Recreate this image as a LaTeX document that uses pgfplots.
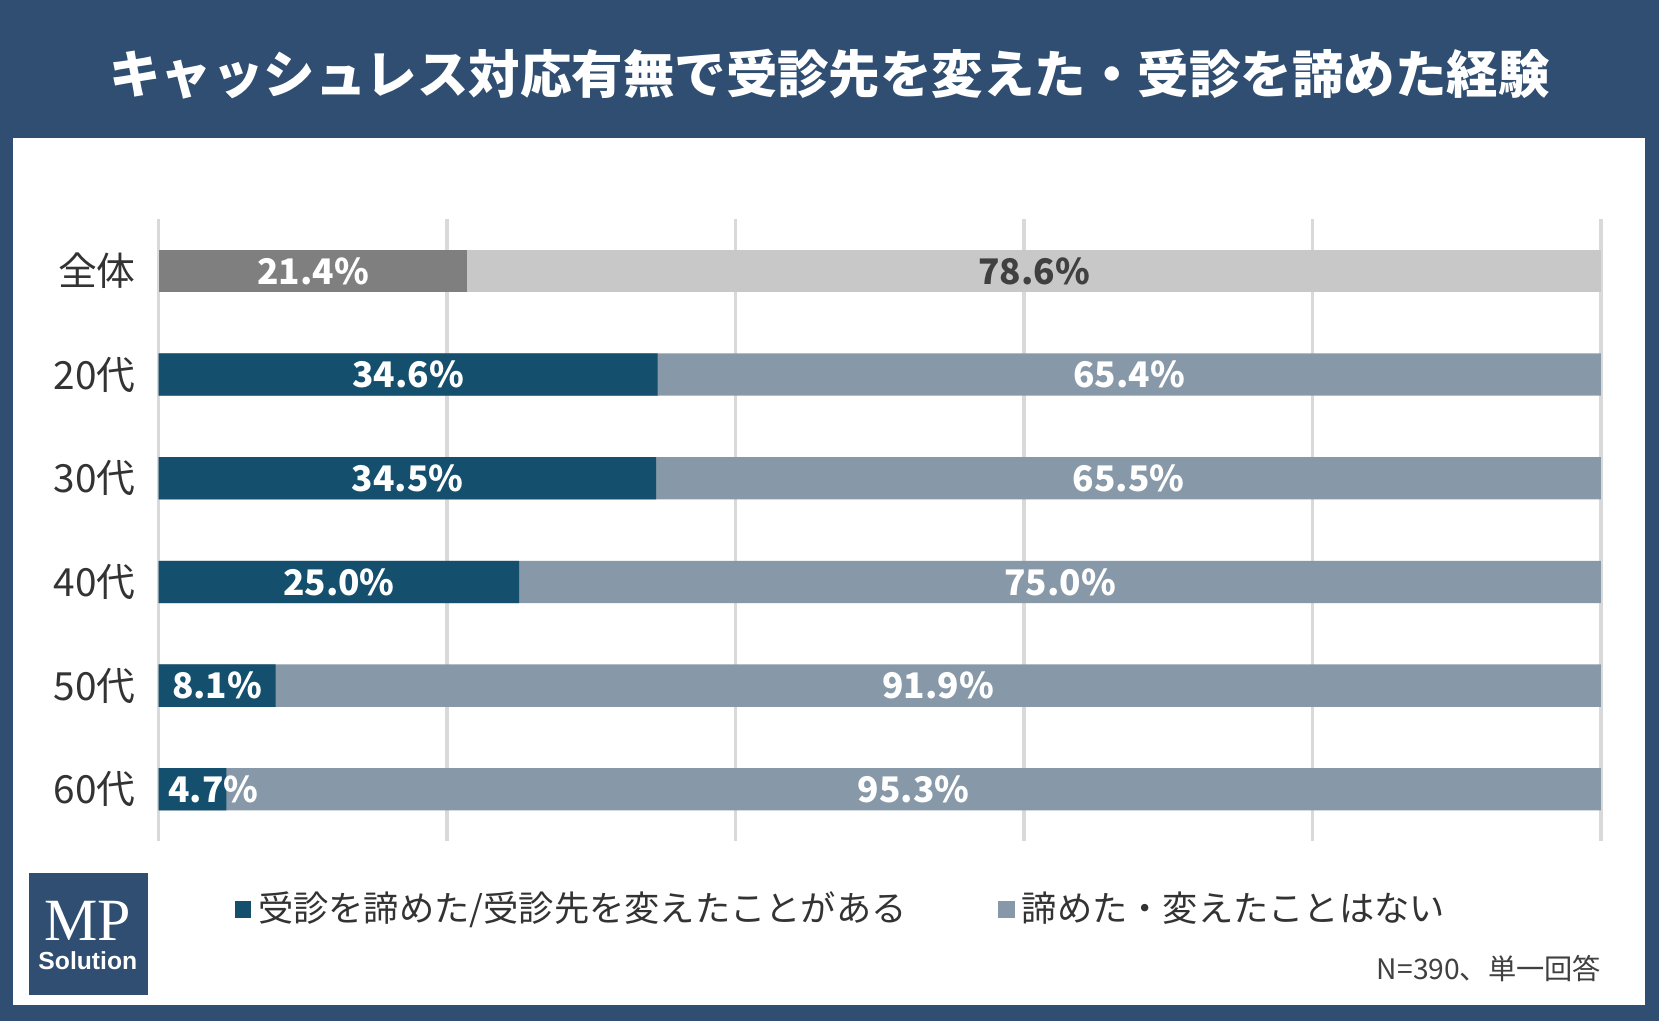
\documentclass[border=0pt]{standalone}
\usepackage{pgfplots}
\pgfplotsset{compat=1.18}
\usepackage{fontspec}
\setmainfont{Noto Sans CJK JP}
\definecolor{frame}{HTML}{2F4E71}
\definecolor{darkA}{HTML}{7F7F7F}
\definecolor{lightA}{HTML}{C8C8C8}
\definecolor{darkB}{HTML}{144F6E}
\definecolor{lightB}{HTML}{8799A8}
\begin{document}
\begin{tikzpicture}[x=0.3pt,y=-0.3pt]
\fill[frame] (0,0) rectangle (1568,965);
\fill[white] (12,130) rectangle (1555,950);
\node[white,font=\fontsize{14.6}{18}\selectfont\bfseries] at (784,70) {キャッシュレス対応有無で受診先を変えた・受診を諦めた経験};
\coordinate (A) at (150,795);
\begin{axis}[at={(A)},anchor=south west,scale only axis,
 width=408.9pt,height=176.4pt,xmin=0,xmax=100,ymin=-0.5,ymax=5.5,y dir=reverse,
 axis line style={draw=none},xtick={0,20,...,100},xticklabels={},
 xmajorgrids,grid style={gray!30,line width=1pt},major tick length=0pt,
 ytick={0,...,5},yticklabels={全体,20代,30代,40代,50代,60代},
 yticklabel style={font=\fontsize{11}{13}\selectfont,text=black!80,xshift=-3pt},
 xbar,bar width=12pt,bar shift=0pt,
 legend style={at={(axis description cs:0.045,-0.11)},anchor=west,draw=none,fill=none,
   font=\fontsize{10}{12}\selectfont,text=black!80,legend columns=2,
   /tikz/every even column/.append style={column sep=24pt}},
 legend image code/.code={\fill[#1,draw=none] (0pt,-2.3pt) rectangle (4.6pt,2.3pt);}]
\addplot[fill=lightA,draw=none,forget plot] coordinates {(100,0)};
\addplot[fill=lightB,draw=none,forget plot] coordinates {(100,1) (100,2) (100,3) (100,4) (100,5)};
\addplot[fill=darkA,draw=none,forget plot] coordinates {(21.4,0)};
\addplot[fill=darkB,draw=none,forget plot] coordinates {(34.6,1) (34.5,2) (25.0,3) (8.1,4) (4.7,5)};
\addlegendimage{fill=darkB,draw=none}\addlegendentry{受診を諦めた/受診先を変えたことがある}
\addlegendimage{fill=lightB,draw=none}\addlegendentry{諦めた・変えたことはない}
\begin{scope}[every node/.style={font=\fontsize{10}{12}\selectfont\bfseries,text=white}]
\node at (axis cs:10.7,0) {21.4\%};
\node[text=black!75] at (axis cs:60.7,0) {78.6\%};
\node at (axis cs:17.3,1) {34.6\%};
\node at (axis cs:67.3,1) {65.4\%};
\node at (axis cs:17.25,2) {34.5\%};
\node at (axis cs:67.25,2) {65.5\%};
\node at (axis cs:12.5,3) {25.0\%};
\node at (axis cs:62.5,3) {75.0\%};
\node at (axis cs:4.05,4) {8.1\%};
\node at (axis cs:54.05,4) {91.9\%};
\node at (axis cs:3.8,5) {4.7\%};
\node at (axis cs:52.35,5) {95.3\%};
\end{scope}
\end{axis}
\fill[frame] (27,825) rectangle (140,940);
\node[white,font=\fontsize{17}{18}\selectfont\rmfamily] at (83,870) {\fontspec{Liberation Serif}MP};
\node[white,font=\fontsize{7}{8}\selectfont\bfseries] at (83,908) {\fontspec{Liberation Sans}Solution};
\node[anchor=east,text=black!75,font=\fontsize{8}{9}\selectfont] at (1525,915) {N=390、単一回答};
\end{tikzpicture}
\end{document}
